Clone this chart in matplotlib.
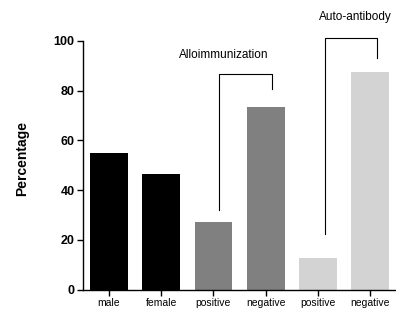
import matplotlib
matplotlib.use("Agg")
import matplotlib.pyplot as plt

plt.rcParams['font.family'] = ['Liberation Sans', 'DejaVu Sans']

categories = ["male", "female", "positive", "negative", "positive", "negative"]
values = [55, 46.5, 27, 73.5, 12.5, 87.5]
colors = ["#000000", "#000000", "#808080", "#808080", "#d3d3d3", "#d3d3d3"]
yticks = [0, 20, 40, 60, 80, 100]

fig = plt.figure(figsize=(3.96, 3.10), dpi=100)
ax = fig.add_axes([0.209, 0.066, 0.792, 0.802])

x = list(range(len(categories)))
ax.bar(x, values, width=0.72, color=colors, zorder=2)

ax.set_xlim(-0.5, 5.5)
ax.set_ylim(0, 100)
ax.set_yticks(yticks)
ax.set_yticklabels([str(t) for t in yticks], fontsize=9, fontweight='bold')
ax.set_xticks(x)
ax.set_xticklabels(categories, fontsize=7.5)
ax.tick_params(axis='both', direction='out', length=4, width=1, pad=2)
ax.spines['top'].set_visible(False)
ax.spines['right'].set_visible(False)
ax.spines['left'].set_linewidth(1)
ax.spines['bottom'].set_linewidth(1)
ax.set_ylabel("Percentage", fontsize=10, fontweight='bold')
ax.yaxis.set_label_coords(-0.171, 0.526)

# brackets
ax.plot([2.11, 2.11, 3.12, 3.12], [32, 86.6, 86.6, 80.5], color='black', lw=0.8, clip_on=False)
ax.text(2.2, 94.5, "Alloimmunization", ha='center', va='center', fontsize=8.5)
ax.plot([4.13, 4.13, 5.13, 5.13], [22.4, 101.1, 101.1, 93], color='black', lw=0.8, clip_on=False)
ax.text(4.72, 109.8, "Auto-antibody", ha='center', va='center', fontsize=8.5, clip_on=False)

fig.savefig("out.png", dpi=100)
